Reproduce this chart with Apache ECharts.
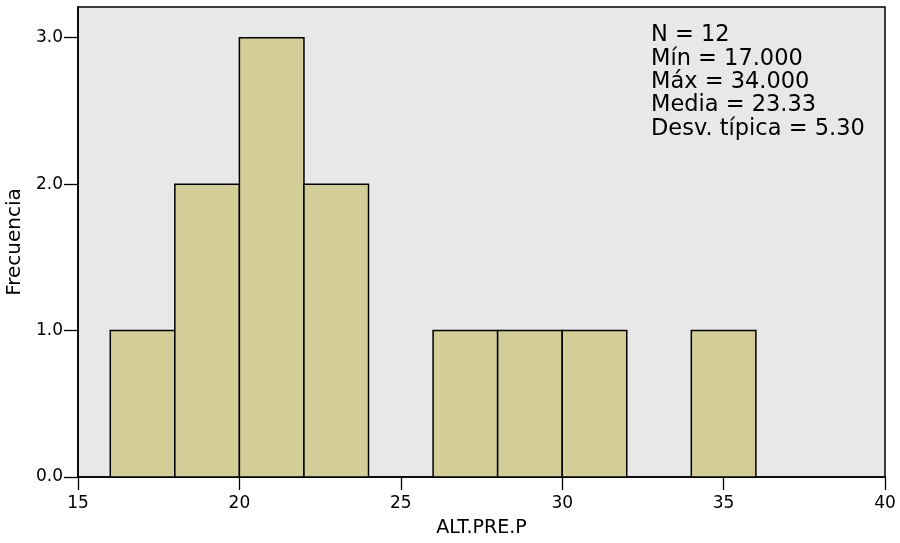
<!DOCTYPE html>
<html>
<head>
<meta charset="utf-8">
<script src="https://cdn.jsdelivr.net/npm/echarts@6/dist/echarts.min.js"></script>
<style>html,body{margin:0;padding:0;background:#fff}#c{width:900px;height:543px}</style>
</head>
<body>
<div id="c"></div>
<script>
var binStart = [16, 18, 20, 22, 26, 28, 30, 34];
var binEnd   = [18, 20, 22, 24, 28, 30, 32, 36];
var freq     = [1, 2, 3, 2, 1, 1, 1, 1];
var xTicks = [15, 20, 25, 30, 35, 40];
var yTicks = [0, 1, 2, 3];
var yTickLabels = ['0.0', '1.0', '2.0', '3.0'];
var statLabels = ['N', 'Mín', 'Máx', 'Media', 'Desv. típica'];
var statValues = ['12', '17.000', '34.000', '23.33', '5.30'];
var xName = 'ALT.PRE.P';
var yName = 'Frecuencia';

var data = binStart.map(function (s, i) { return [s, binEnd[i], freq[i]]; });
var chart = echarts.init(document.getElementById('c'), null, {renderer: 'canvas'});
var FONT = 'DejaVu Sans';
chart.setOption({
  animation: false,
  backgroundColor: '#ffffff',
  grid: {left: 78, right: 15, top: 7, bottom: 66, containLabel: false, outerBoundsMode: 'none',
    show: true, backgroundColor: '#e8e8e8', borderColor: '#000', borderWidth: 1.5},
  xAxis: {
    type: 'value', min: 15, max: 40, interval: 5,
    name: xName, nameLocation: 'middle', nameGap: 42,
    nameTextStyle: {color: '#000', fontFamily: FONT, fontSize: 19},
    axisLine: {show: true, lineStyle: {color: '#000', width: 1.5}},
    axisTick: {show: true, length: 13, lineStyle: {color: '#000', width: 1.3}, customValues: xTicks},
    axisLabel: {color: '#000', fontFamily: FONT, fontSize: 17, margin: 18, customValues: xTicks},
    splitLine: {show: false}
  },
  yAxis: {
    type: 'value', min: 0, max: 3.21, interval: 1,
    name: yName, nameLocation: 'middle', nameGap: 47, nameRotate: 90,
    nameTextStyle: {color: '#000', fontFamily: FONT, fontSize: 20},
    axisLine: {show: true, lineStyle: {color: '#000', width: 1.5}},
    axisTick: {show: true, length: 14, lineStyle: {color: '#000', width: 1.3}, customValues: yTicks},
    axisLabel: {color: '#000', fontFamily: FONT, fontSize: 17, margin: 15, customValues: yTicks,
      formatter: function (v) { var i = yTicks.indexOf(v); return i >= 0 ? yTickLabels[i] : ''; }},
    splitLine: {show: false}
  },
  series: [{
    type: 'custom',
    data: data,
    renderItem: function (params, api) {
      var p0 = api.coord([api.value(0), 0]);
      var p1 = api.coord([api.value(1), api.value(2)]);
      return {
        type: 'rect',
        shape: {x: p0[0], y: p1[1], width: p1[0] - p0[0], height: p0[1] - p1[1]},
        style: {fill: '#d3ce97', stroke: '#000', lineWidth: 1.5}
      };
    },
    encode: {x: [0, 1], y: 2}
  }],
  graphic: [{
    type: 'text', left: 651, top: 24,
    style: {
      text: statLabels.map(function (l, i) { return l + ' = ' + statValues[i]; }).join('\n'),
      font: '22.5px "DejaVu Sans"', fill: '#000', lineHeight: 23.3
    }
  }]
});
</script>
</body>
</html>
